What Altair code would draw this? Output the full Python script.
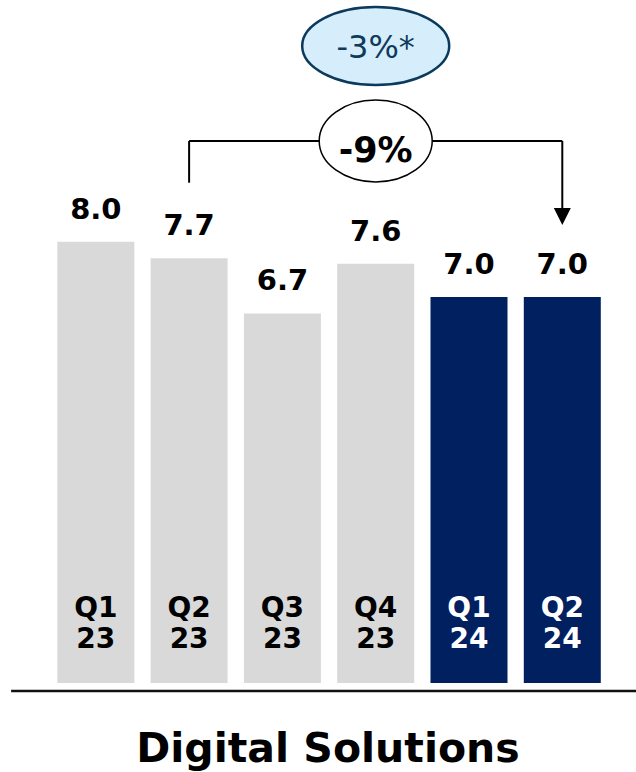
import altair as alt
import pandas as pd

FONT = "DejaVu Sans"

# Quarterly revenue, Digital Solutions segment
quarters = ["Q1", "Q2", "Q3", "Q4", "Q1", "Q2"]
years = ["23", "23", "23", "23", "24", "24"]
revenue = [8.0, 7.7, 6.7, 7.6, 7.0, 7.0]
period = ["2023", "2023", "2023", "2023", "2024", "2024"]

yoy_change = "-9%"
organic_change = "-3%*"
segment_title = "Digital Solutions"

df = pd.DataFrame({
    "idx": list(range(len(revenue))),
    "quarter": quarters,
    "year": years,
    "revenue": revenue,
    "period": period,
    "label": [f"{v:.1f}" for v in revenue],
})
one = pd.DataFrame({"k": [0]})

x_scale = alt.Scale(domain=[-1.027, 5.79], nice=False, zero=False, padding=0)
y_scale = alt.Scale(domain=[-0.308, 12.382], nice=False, zero=False, padding=0)

X = alt.X("idx:Q", scale=x_scale, axis=None)
base = alt.Chart(df).encode(x=X)

bars = base.mark_bar(size=77).encode(
    y=alt.Y("revenue:Q", scale=y_scale, axis=None, stack=None),
    y2=alt.datum(0),
    color=alt.Color(
        "period:N",
        scale=alt.Scale(domain=["2023", "2024"], range=["#D9D9D9", "#002060"]),
        legend=None,
    ),
)

values = base.mark_text(
    dy=-23, baseline="alphabetic", fontSize=29, fontWeight="bold", font=FONT, color="black"
).encode(y=alt.Y("revenue:Q", scale=y_scale, axis=None), text="label:N")

label_color = alt.condition(alt.datum.period == "2024", alt.value("white"), alt.value("black"))
q_text = base.mark_text(
    dy=-66, baseline="alphabetic", fontSize=28, fontWeight="bold", font=FONT
).encode(y=alt.datum(0), text="quarter:N", color=label_color)
yr_text = base.mark_text(
    dy=-35, baseline="alphabetic", fontSize=28, fontWeight="bold", font=FONT
).encode(y=alt.datum(0), text="year:N", color=label_color)

# baseline under the bars
baseline = alt.Chart(one).mark_rule(strokeWidth=2.5, color="#111111").encode(
    x=alt.datum(-0.908), x2=alt.datum(5.79), y=alt.datum(-0.145)
)

# year-over-year bracket from Q2 23 to Q2 24
bracket_y = 9.826
left_leg = alt.Chart(one).mark_rule(strokeWidth=2, color="black").encode(
    x=alt.datum(1), y=alt.datum(9.07), y2=alt.datum(bracket_y)
)
top_bar = alt.Chart(one).mark_rule(strokeWidth=2, color="black").encode(
    x=alt.datum(1), x2=alt.datum(5), y=alt.datum(bracket_y)
)
right_leg = alt.Chart(one).mark_rule(strokeWidth=2, color="black").encode(
    x=alt.datum(5), y=alt.datum(8.56), y2=alt.datum(bracket_y)
)
arrow_head = alt.Chart(one).mark_point(
    shape="M-1,-1L1,-1L0,1Z", size=289, filled=True, color="black", opacity=1
).encode(x=alt.datum(5), y=alt.datum(8.457))

yoy_oval = alt.Chart(one).mark_point(
    shape="M-1,0A1,0.725,0,1,1,1,0A1,0.725,0,1,1,-1,0Z",
    size=12769, filled=False, fill="white", fillOpacity=1, stroke="black",
    strokeWidth=1.5, opacity=1,
).encode(x=alt.datum(3), y=alt.datum(bracket_y))
yoy_text = alt.Chart(one).mark_text(
    baseline="alphabetic", fontSize=35, fontWeight="bold", font=FONT, color="black"
).encode(x=alt.datum(3), y=alt.datum(9.45), text=alt.value(yoy_change))

organic_oval = alt.Chart(one).mark_point(
    shape="M-1,0A1,0.53,0,1,1,1,0A1,0.53,0,1,1,-1,0Z",
    size=21609, filled=False, fill="#D6EEFC", fillOpacity=1, stroke="#0B3A5C",
    strokeWidth=2.5, opacity=1,
).encode(x=alt.datum(3), y=alt.datum(11.548))
organic_text = alt.Chart(one).mark_text(
    baseline="alphabetic", fontSize=32, fontWeight="normal", font=FONT, color="#0E3A5B"
).encode(x=alt.datum(3), y=alt.datum(11.331), text=alt.value(organic_change))

chart = alt.layer(
    bars, values, q_text, yr_text, baseline,
    left_leg, top_bar, right_leg, arrow_head, yoy_oval, yoy_text,
    organic_oval, organic_text,
).properties(
    width=636,
    height=700,
    padding={"left": 0, "right": 0, "top": 0, "bottom": 72},
    autosize=alt.AutoSizeParams(type="none"),
    title=alt.TitleParams(
        segment_title, orient="bottom", anchor="middle", frame="group",
        baseline="alphabetic", offset=62, dx=10, fontSize=41, fontWeight="bold",
        font=FONT, color="black",
    ),
).configure_view(stroke=None)

chart.save("out.html", embed_options={"renderer": "svg", "actions": False})
